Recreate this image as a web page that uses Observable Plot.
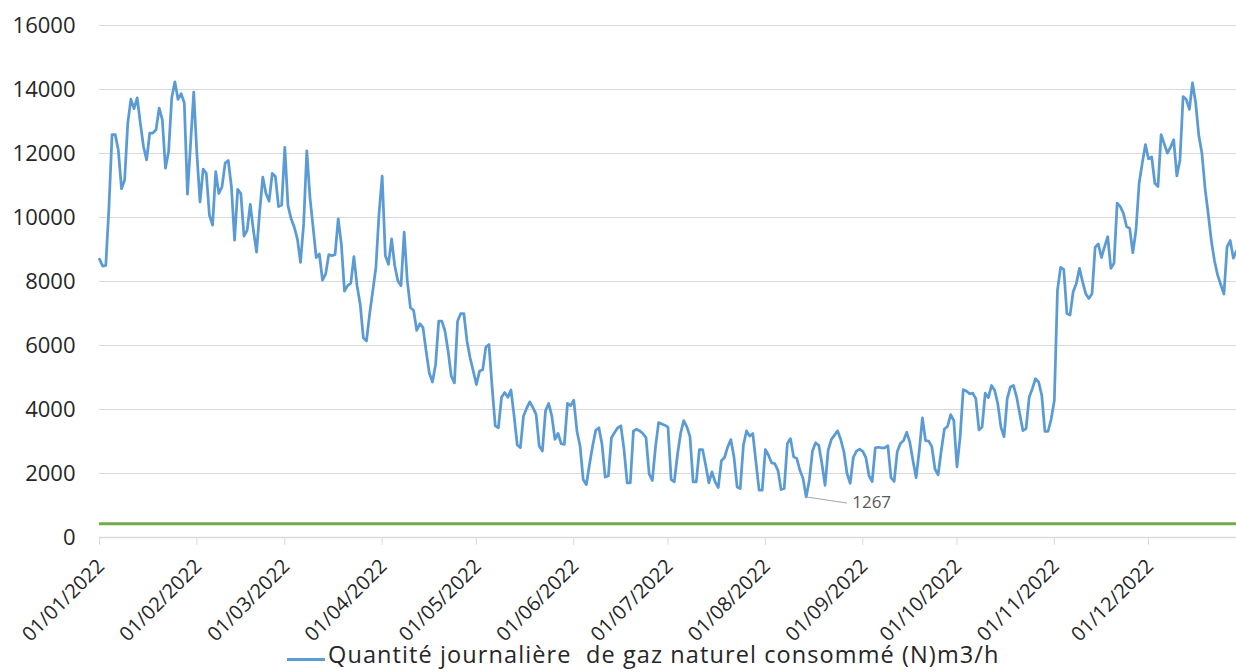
<!DOCTYPE html>
<html><head><meta charset="utf-8">
<script src="https://cdn.jsdelivr.net/npm/d3@7"></script>
<script src="https://cdn.jsdelivr.net/npm/@observablehq/plot@0.6"></script>
<style>
html,body{margin:0;padding:0;background:#fff;overflow:hidden;width:1236px;height:672px;}
#chart{position:absolute;left:0;top:0;}
#swatch{position:absolute;left:287px;top:658px;width:38px;height:3px;background:#5b9bd5;}
#legendText{position:absolute;left:328px;top:643px;font-family:"Open Sans";font-size:23.5px;line-height:23.5px;letter-spacing:1.1px;color:#262626;white-space:pre;}
</style></head><body>
<div id="chart"></div>
<div id="swatch"></div>
<div id="legendText"></div>
<script>
// Daily consumption values (N)m3/h, 2022, one array per month
const jan = [8700,8480,8500,10300,12590,12590,12100,10900,11170,12950,13700,13400,13740,12950,12220,11800,12640,12640,12740,13420,13060,11540,12060,13740,14240,13690,13870,13580,10730,12300,13920];
const feb = [12000,10490,11510,11380,10070,9760,11430,10750,10960,11700,11780,10960,9290,10880,10750,9420,9600,10410,9600,8920,10200,11260,10750,10510,11380,11280,10340,10390];
const mar = [12190,10380,9960,9700,9330,8600,9800,12080,10640,9700,8750,8860,8040,8230,8840,8810,8840,9960,9170,7700,7870,7940,8780,7870,7290,6240,6140,6980,7700,8440,10120];
const apr = [11290,8810,8540,9330,8490,8020,7870,9540,8020,7180,7100,6470,6680,6560,5820,5140,4860,5400,6760,6760,6450,5820,5040,4830,6760,7000,7000,6140,5610,5200];
const may = [4780,5200,5240,5950,6030,4700,3490,3430,4380,4530,4380,4610,3800,2890,2810,3800,4040,4240,4060,3850,2860,2700,3960,4190,3800,3070,3250,2930,2910,4190,4120];
const jun = [4290,3330,2860,1810,1650,2280,2860,3350,3430,2910,1890,1920,3120,3280,3430,3490,2750,1710,1710,3330,3380,3330,3250,3120,1990,1780,2810,3590,3550,3510];
const jul = [3450,1810,1740,2570,3250,3650,3460,3150,1740,1740,2750,2750,2260,1710,2050,1740,1560,2400,2500,2830,3060,2520,1580,1530,2880,3330,3170,3250,2360,1480,1480];
const aug = [2750,2570,2330,2310,2100,1500,1530,2940,3090,2520,2470,2100,1840,1267,1800,2700,2960,2880,2310,1630,2730,3060,3200,3330,3060,2680,2000,1690,2500,2700,2760];
const sep = [2690,2500,1930,1750,2800,2820,2800,2800,2870,1870,1750,2690,2940,3030,3290,2970,2400,1870,2710,3740,3030,3010,2840,2140,1960,2710,3390,3470,3840,3650];
const oct = [2210,3130,4620,4580,4490,4510,4340,3360,3450,4510,4370,4750,4600,4180,3450,3150,4340,4700,4750,4390,3860,3340,3400,4390,4650,4960,4860,4440,3320,3320,3700];
const nov = [4280,7730,8440,8380,7000,6950,7680,7940,8410,7990,7620,7470,7620,9070,9170,8750,9090,9400,8410,8570,10450,10340,10130,9720,9660,8900,9610,11070,11700,12280];
const dec = [11830,11890,11070,10970,12590,12300,12010,12200,12430,11300,11800,13780,13690,13380,14210,13580,12560,12000,10900,10110,9270,8640,8200,7900,7610,9080,9280,8730,8950];

const thresholdValue = [430];                 // green reference line
const yTickValues = [0,2000,4000,6000,8000,10000,12000,14000,16000];
const seriesLabel = "Quantité journalière  de gaz naturel consommé (N)m3/h";
const startDate = new Date(Date.UTC(2022, 0, 1));
const endDate = new Date(Date.UTC(2022, 11, 29));
const monthTicks = d3.utcMonths(startDate, new Date(Date.UTC(2022, 11, 2)));

const values = [jan, feb, mar, apr, may, jun, jul, aug, sep, oct, nov, dec].flat();
const data = values.map((v, i) => ({date: d3.utcDay.offset(startDate, i), value: v}));
const minPoint = [data.reduce((a, b) => (b.value < a.value ? b : a))];
const fmtDate = d3.utcFormat("%d/%m/%Y");

document.getElementById("legendText").textContent = seriesLabel;

const chart = Plot.plot({
  width: 1236,
  height: 645,
  marginLeft: 99,
  marginRight: 0,
  marginTop: 25,
  marginBottom: 108,
  style: {fontFamily: "Open Sans", fontSize: "20px", color: "#262626", background: "#fff", overflow: "visible"},
  x: {type: "utc", domain: [startDate, endDate]},
  y: {domain: [0, 16000]},
  marks: [
    Plot.ruleY(yTickValues.filter(d => d > 0), {stroke: "#d9d9d9", strokeWidth: 1}),
    Plot.ruleY(thresholdValue, {stroke: "#70ad47", strokeWidth: 3}),
    Plot.ruleY([0], {stroke: "#d9d9d9", strokeWidth: 1.3}),
    Plot.axisY(yTickValues, {tickSize: 0, tickPadding: 24, fontSize: 22, fill: "#262626", label: null, tickFormat: d3.format("d")}),
    Plot.axisX(monthTicks, {tickSize: 8, tickFormat: () => "", stroke: "#d9d9d9", label: null}),
    Plot.text(monthTicks, {x: d => d, frameAnchor: "bottom", text: d => fmtDate(d), rotate: -45, textAnchor: "end", dx: 6, dy: 30, fontSize: 20, fill: "#262626"}),
    Plot.lineY(data, {x: "date", y: "value", stroke: "#5b9bd5", strokeWidth: 2.75, strokeLinejoin: "round"}),
    Plot.link(minPoint, {x1: "date", y1: "value", x2: d => d3.utcHour.offset(d.date, 13 * 24), y2: d => d.value - 190, stroke: "#a6a6a6", strokeWidth: 1}),
    Plot.text(minPoint, {x: "date", y: "value", text: d => String(d.value), dx: 46, dy: 6, textAnchor: "start", fontSize: 17, fill: "#595959"})
  ]
});
document.getElementById("chart").appendChild(chart);
</script>
</body></html>
